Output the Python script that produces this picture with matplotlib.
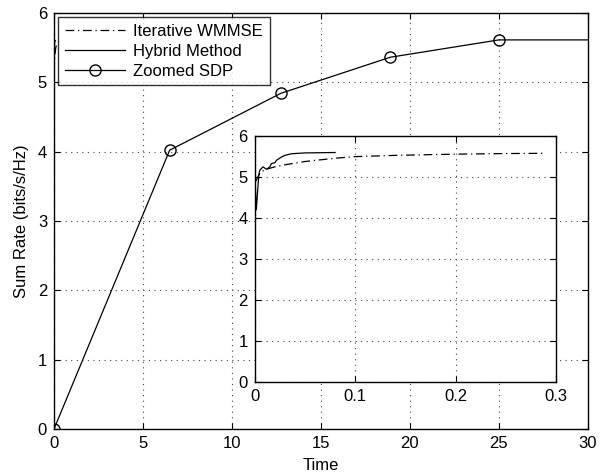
import numpy as np
import matplotlib
matplotlib.use('Agg')
import matplotlib.pyplot as plt

plt.rcParams['font.family'] = ['Liberation Sans', 'DejaVu Sans']

# Zoomed SDP (main curve)
sdp_time = [0, 6.5, 12.75, 18.9, 25.0, 30.0]
sdp_rate = [0, 4.02, 4.84, 5.36, 5.61, 5.61]
sdp_marks = [0, 1, 2, 3, 4]

# Hybrid method (inset)
hyb_time = [0.0005, 0.0015, 0.004, 0.005, 0.0083, 0.0116, 0.015, 0.0166, 0.02,
            0.0216, 0.0266, 0.03, 0.0366, 0.05, 0.08]
hyb_rate = [4.8, 4.2, 5.05, 5.17, 5.25, 5.19, 5.25, 5.33, 5.35,
            5.41, 5.49, 5.53, 5.57, 5.59, 5.6]

# Iterative WMMSE (inset)
wm_time = [0.001, 0.005, 0.01, 0.02, 0.03, 0.05, 0.08, 0.1, 0.14, 0.2, 0.25, 0.29]
wm_rate = [4.9, 5.1, 5.18, 5.25, 5.3, 5.38, 5.46, 5.5, 5.53, 5.56, 5.575, 5.58]

dashdot = (0, (7, 3, 1, 3))


def style_axes(ax):
    ax.tick_params(direction='in', top=True, right=True, labelsize=12, length=4, pad=5)
    ax.grid(True, linestyle=(0, (1, 4)), color='#444444', linewidth=0.8)
    for s in ax.spines.values():
        s.set_linewidth(1.0)


fig = plt.figure(figsize=(6.11, 4.76), dpi=100)
ax = fig.add_axes([0.0884, 0.0987, 0.8736, 0.8743])

ax.plot(wm_time, wm_rate, color='black', linestyle=dashdot, linewidth=0.9,
        label='Iterative WMMSE')
ax.plot(hyb_time, hyb_rate, color='black', linestyle='-', linewidth=0.9,
        label='Hybrid Method')
ax.plot(sdp_time, sdp_rate, color='black', linestyle='-', linewidth=0.9,
        marker='o', markersize=8, markerfacecolor='none', markevery=sdp_marks,
        label='Zoomed SDP')

ax.set_xlim(0, 30)
ax.set_ylim(0, 6)
ax.set_xticks(np.arange(0, 31, 5))
ax.set_yticks(np.arange(0, 7, 1))
ax.set_xlabel('Time', fontsize=12, labelpad=5)
ax.set_ylabel('Sum Rate (bits/s/Hz)', fontsize=12, labelpad=6)
style_axes(ax)

leg = ax.legend(loc='upper left', fontsize=12, frameon=True, fancybox=False,
                edgecolor='black', handlelength=3.6, borderaxespad=0.25,
                borderpad=0.4, labelspacing=0.3, handletextpad=0.5)
leg.get_frame().set_linewidth(1.0)

ins = fig.add_axes([0.417, 0.198, 0.493, 0.516])
ins.plot(wm_time, wm_rate, color='black', linestyle=dashdot, linewidth=0.9)
ins.plot(hyb_time, hyb_rate, color='black', linestyle='-', linewidth=0.9)
ins.set_xlim(0, 0.3)
ins.set_ylim(0, 6)
ins.set_xticks([0, 0.1, 0.2, 0.3])
ins.set_xticklabels(['0', '0.1', '0.2', '0.3'])
ins.set_yticks(np.arange(0, 7, 1))
style_axes(ins)

fig.savefig('out.png', dpi=100)
